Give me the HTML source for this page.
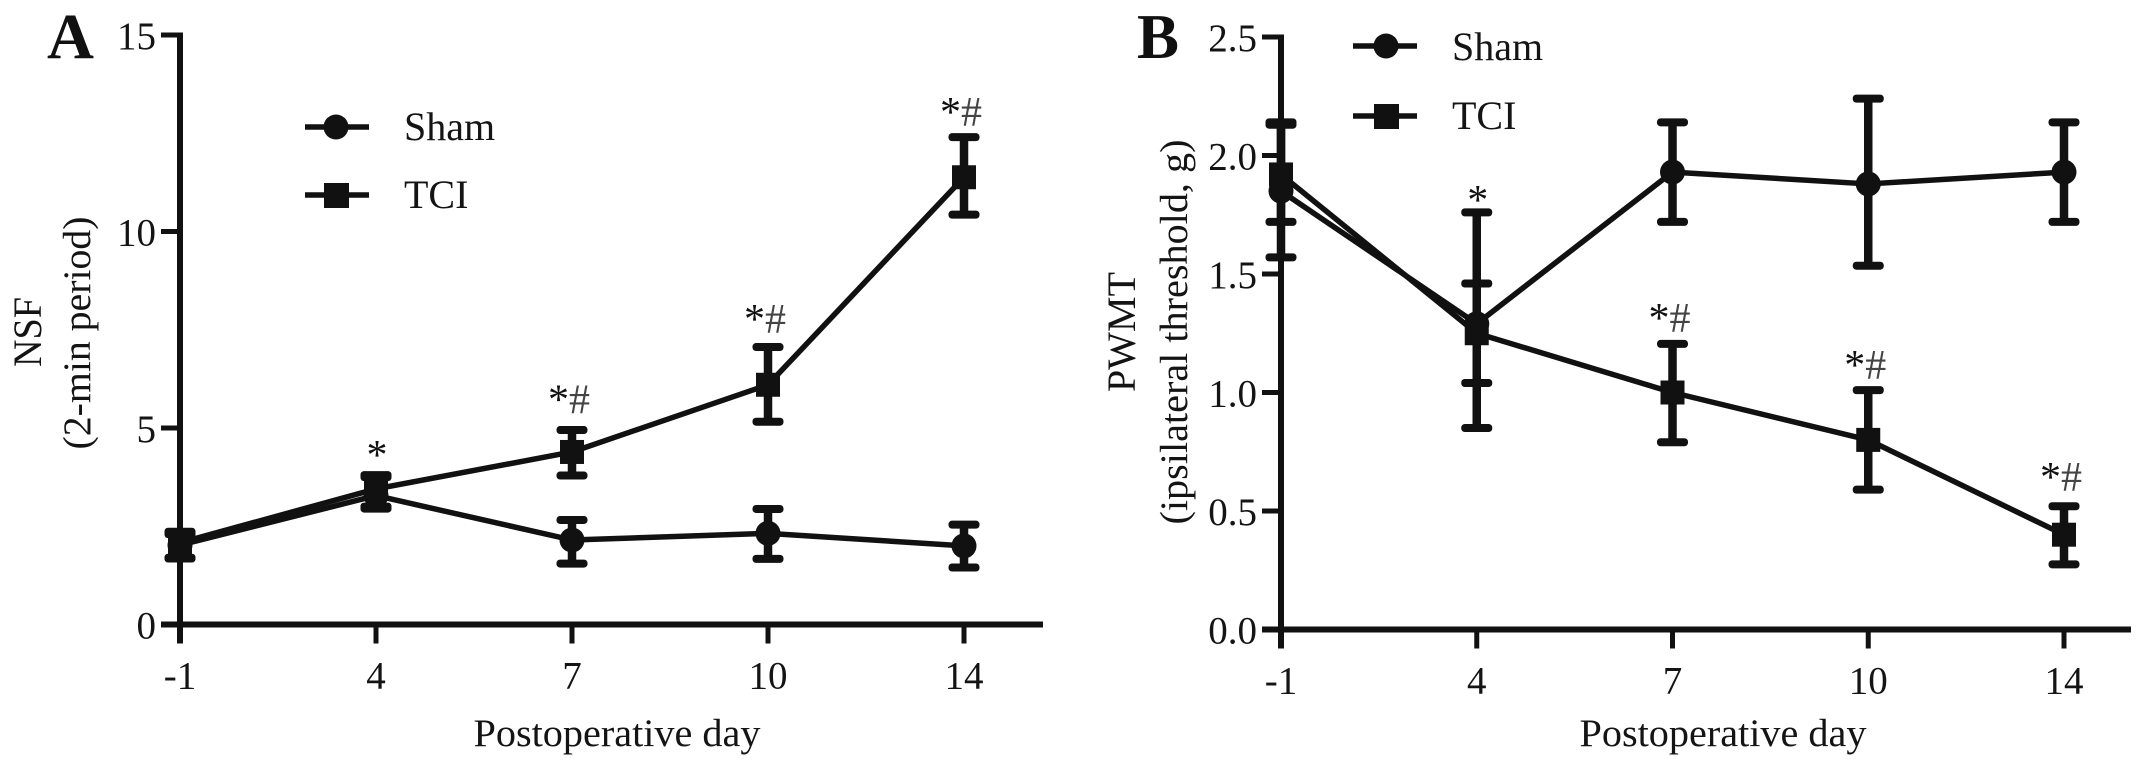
<!DOCTYPE html>
<html lang="en">
<head>
<meta charset="utf-8">
<title>NSF and PWMT by postoperative day</title>
<style>
  html, body { margin: 0; padding: 0; background: #fff; }
  svg { display: block; }
  text { font-family: "Liberation Serif", serif; fill: #141414; }
</style>
</head>
<body>
<svg id="figure" xmlns="http://www.w3.org/2000/svg" width="2150" height="782" viewBox="0 0 2150 782">
  <rect width="2150" height="782" fill="#fff"/>

  <g id="panel-a"></g>
  <g id="panel-b"></g>

  <text x="47" y="58" font-size="65" font-weight="bold" style="fill:#111">A</text>
  <text x="1137" y="58" font-size="63" font-weight="bold" style="fill:#111">B</text>

  <text x="617" y="746" font-size="39" text-anchor="middle" textLength="287" lengthAdjust="spacingAndGlyphs">Postoperative day</text>
  <text x="1723" y="746" font-size="39" text-anchor="middle" textLength="287" lengthAdjust="spacingAndGlyphs">Postoperative day</text>

  <text transform="translate(41,332) rotate(-90)" font-size="40" text-anchor="middle" textLength="70" lengthAdjust="spacingAndGlyphs">NSF</text>
  <text transform="translate(90,333) rotate(-90)" font-size="39" text-anchor="middle" textLength="233" lengthAdjust="spacingAndGlyphs">(2-min period)</text>
  <text transform="translate(1135,332) rotate(-90)" font-size="40" text-anchor="middle" textLength="120" lengthAdjust="spacingAndGlyphs">PWMT</text>
  <text transform="translate(1187,332) rotate(-90)" font-size="39" text-anchor="middle" textLength="385" lengthAdjust="spacingAndGlyphs">(ipsilateral threshold, g)</text>

  <g>
    <g>
      <line x1="305" x2="369" y1="127" y2="127" stroke="#111" stroke-width="5.5"/>
      <circle cx="336" cy="127" r="12.5" fill="#111"/>
      <text x="404" y="140" font-size="40">Sham</text>
    </g>
    <g>
      <line x1="305" x2="369" y1="195" y2="195" stroke="#111" stroke-width="5.5"/>
      <rect x="324" y="183" width="25" height="25" fill="#111"/>
      <text x="404" y="208" font-size="40">TCI</text>
    </g>
  </g>
  <g>
    <g>
      <line x1="1353" x2="1417" y1="46" y2="46" stroke="#111" stroke-width="5.5"/>
      <circle cx="1386" cy="46" r="12.5" fill="#111"/>
      <text x="1452" y="60" font-size="40">Sham</text>
    </g>
    <g>
      <line x1="1353" x2="1417" y1="116" y2="116" stroke="#111" stroke-width="5.5"/>
      <rect x="1374" y="104" width="25" height="25" fill="#111"/>
      <text x="1452" y="129" font-size="40">TCI</text>
    </g>
  </g>
</svg>

<script>
// Shared categories
var days = ['-1', '4', '7', '10', '14'];

// Panel A: NSF (2-min period)
var aTicks = ['0', '5', '10', '15'];
var aTickValues = [0, 5, 10, 15];
var aShamMean = [2.02, 3.28, 2.15, 2.32, 2.0];
var aShamHigh = [2.3, 3.75, 2.66, 2.94, 2.54];
var aShamLow = [1.7, 2.95, 1.55, 1.67, 1.45];
var aTciMean = [2.08, 3.45, 4.39, 6.1, 11.38];
var aTciHigh = [2.36, 3.8, 4.95, 7.06, 12.4];
var aTciLow = [1.68, 3.0, 3.79, 5.16, 10.43];
var aMarks = ['', '*', '*#', '*#', '*#'];
var aMarkLevels = [0, 3.96, 5.37, 7.42, 12.68];

// Panel B: PWMT (ipsilateral threshold, g)
var bTicks = ['0.0', '0.5', '1.0', '1.5', '2.0', '2.5'];
var bTickValues = [0, 0.5, 1, 1.5, 2, 2.5];
var bShamMean = [1.85, 1.29, 1.93, 1.88, 1.93];
var bShamHigh = [2.13, 1.46, 2.14, 2.24, 2.14];
var bShamLow = [1.57, 1.04, 1.72, 1.535, 1.72];
var bTciMean = [1.92, 1.25, 1.0, 0.8, 0.4];
var bTciHigh = [2.14, 1.76, 1.205, 1.01, 0.52];
var bTciLow = [1.72, 0.85, 0.79, 0.59, 0.275];
var bMarks = ['', '*', '*#', '*#', '*#'];
var bMarkLevels = [0, 1.753, 1.255, 1.058, 0.585];

var NS = 'http://www.w3.org/2000/svg';
var INK = '#111';

function make(parent, tag, attrs) {
  var el = document.createElementNS(NS, tag);
  for (var k in attrs) el.setAttribute(k, attrs[k]);
  parent.appendChild(el);
  return el;
}

function drawSeries(g, s, xScale, yScale, name) {
  var pts = s.mean.map(function (v, i) { return xScale(i) + ',' + yScale(v); }).join(' ');
  s.mean.forEach(function (v, i) {
    var x = xScale(i);
    var bar = make(g, 'line', { x1: x, x2: x, y1: yScale(s.high[i]), y2: yScale(s.low[i]), stroke: INK, 'stroke-width': 8.5 });
    
    
    var capHigh = make(g, 'rect', { x: x - 15.5, y: yScale(s.high[i]) - 4, width: 31, height: 8, rx: 3.5, fill: INK });
    
    
    var capLow = make(g, 'rect', { x: x - 15.5, y: yScale(s.low[i]) - 4, width: 31, height: 8, rx: 3.5, fill: INK });
    
    
  });
  var line = make(g, 'polyline', { points: pts, fill: 'none', stroke: INK, 'stroke-width': 5.5, 'stroke-linejoin': 'round' });
  
  
  s.mean.forEach(function (v, i) {
    var m;
    if (s.shape === 'circle') {
      m = make(g, 'circle', { cx: xScale(i), cy: yScale(v), r: 12.5, fill: INK });
    } else {
      m = make(g, 'rect', { x: xScale(i) - 12, y: yScale(v) - 12, width: 24, height: 24, fill: INK });
    }
    
    
  });
}

function drawPanel(o) {
  var g = document.getElementById(o.id);
  function xScale(i) { return o.x0 + i * o.step; }
  function yScale(v) { return o.y0 - (v / o.yMax) * (o.y0 - o.yTop); }

  drawSeries(g, o.sham, xScale, yScale, o.prefix + '-sham');
  drawSeries(g, o.tci, xScale, yScale, o.prefix + '-tci');

  var yAxis = make(g, 'line', { x1: o.x0, x2: o.x0, y1: yScale(o.yMax) - 2.5, y2: o.y0 + 19, stroke: INK, 'stroke-width': 6 });
  
  
  var xAxis = make(g, 'line', { x1: o.x0 - 19, x2: o.xEnd, y1: o.y0, y2: o.y0, stroke: INK, 'stroke-width': 6 });
  
  

  o.tickValues.forEach(function (v, i) {
    var tick = make(g, 'line', { x1: o.x0 - 19, x2: o.x0, y1: yScale(v), y2: yScale(v), stroke: INK, 'stroke-width': 5 });
    
    
    var label = make(g, 'text', { x: o.x0 - 24, y: yScale(v) + 14, 'font-size': 39, 'text-anchor': 'end' });
    
    
    label.textContent = o.ticks[i];
  });

  days.forEach(function (d, i) {
    var tick = make(g, 'line', { x1: xScale(i), x2: xScale(i), y1: o.y0, y2: o.y0 + 19, stroke: INK, 'stroke-width': 5 });
    
    
    var label = make(g, 'text', { x: xScale(i), y: o.y0 + 64, 'font-size': 39, 'text-anchor': 'middle' });
    
    
    label.textContent = d;
  });

  o.marks.forEach(function (m, i) {
    if (!m) return;
    var label = make(g, 'text', { x: xScale(i) + (m.length > 1 ? -3 : 1), y: yScale(o.markLevels[i]), 'font-size': 42, 'text-anchor': 'middle' });
    
    
    m.split('').forEach(function (ch) {
      var span = make(label, 'tspan', ch === '#' ? { style: 'fill:#444' } : { style: 'fill:#111' });
      span.textContent = ch;
    });
  });
}

drawPanel({
  id: 'panel-a', prefix: 'a',
  x0: 180, step: 196, xEnd: 1043,
  y0: 624.5, yTop: 35, yMax: 15,
  ticks: aTicks, tickValues: aTickValues,
  sham: { mean: aShamMean, high: aShamHigh, low: aShamLow, shape: 'circle' },
  tci: { mean: aTciMean, high: aTciHigh, low: aTciLow, shape: 'square' },
  marks: aMarks, markLevels: aMarkLevels
});

drawPanel({
  id: 'panel-b', prefix: 'b',
  x0: 1281, step: 195.75, xEnd: 2131,
  y0: 629.5, yTop: 37, yMax: 2.5,
  ticks: bTicks, tickValues: bTickValues,
  sham: { mean: bShamMean, high: bShamHigh, low: bShamLow, shape: 'circle' },
  tci: { mean: bTciMean, high: bTciHigh, low: bTciLow, shape: 'square' },
  marks: bMarks, markLevels: bMarkLevels
});
</script>
</body>
</html>
